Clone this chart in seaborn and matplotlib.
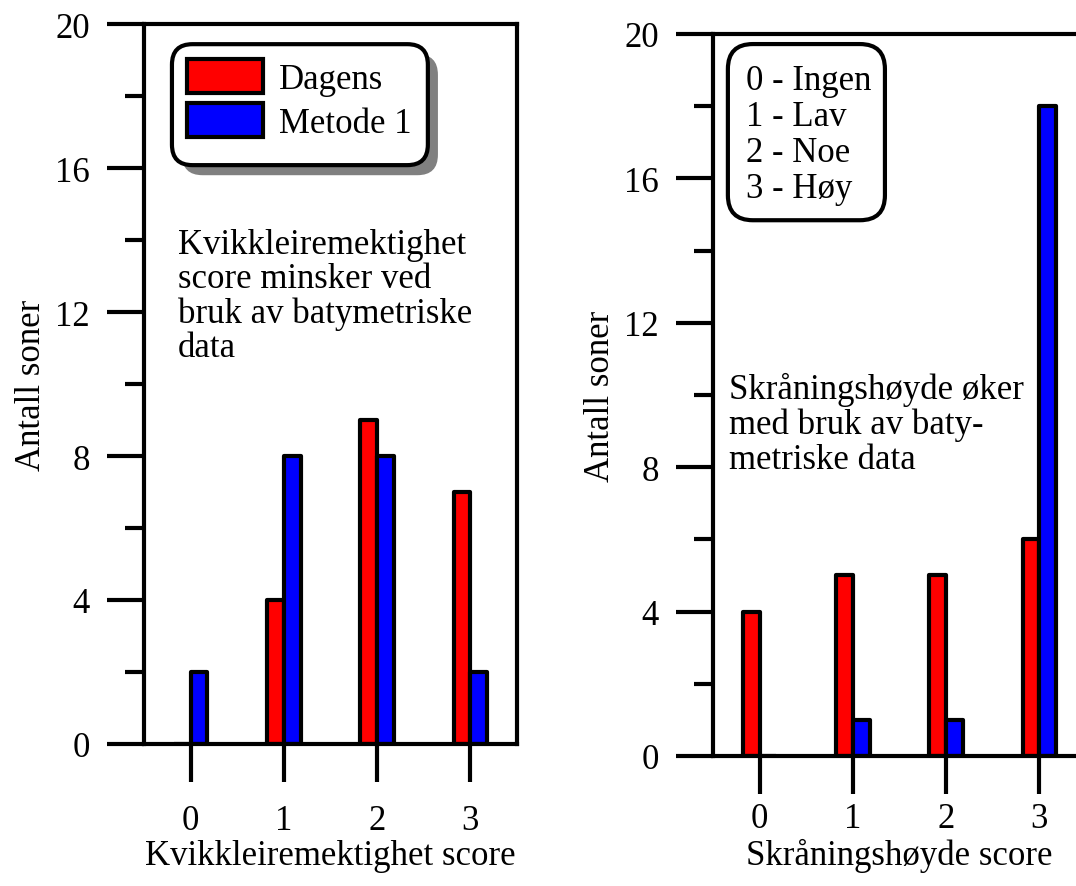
import numpy as np
import pandas as pd
import seaborn as sns
import matplotlib.pyplot as plt
from matplotlib.patches import FancyBboxPatch, Patch
from matplotlib.ticker import MultipleLocator

scores = ["0", "1", "2", "3"]
series = ["Dagens", "Metode 1"]

kvikk_dagens = [0, 4, 9, 7]
kvikk_metode1 = [2, 8, 8, 2]
skraning_dagens = [4, 5, 5, 6]
skraning_metode1 = [0, 1, 1, 18]

score_legend = ["0 - Ingen", "1 - Lav", "2 - Noe", "3 - Høy"]

colors = {"Dagens": "#ff0000", "Metode 1": "#0000ff"}

sns.set_style("ticks")
plt.rcParams["font.family"] = ["Liberation Serif", "DejaVu Serif"]
plt.rcParams.update({"text.color": "black", "axes.labelcolor": "black",
                     "xtick.color": "black", "ytick.color": "black"})
FS = 25


def make_df(dagens, metode):
    return pd.DataFrame({
        "score": scores * 2,
        "antall": list(dagens) + list(metode),
        "serie": [series[0]] * 4 + [series[1]] * 4,
    })


def style_axis(ax, xlabel, xpad, xlabelpad):
    ax.set_xlim(-0.5, 3.5)
    ax.set_ylim(0, 20)
    ax.yaxis.set_major_locator(MultipleLocator(4))
    ax.yaxis.set_minor_locator(MultipleLocator(2))
    ax.tick_params(axis="both", which="major", direction="out", length=27,
                   width=3, labelsize=FS, color="black")
    ax.tick_params(axis="y", which="major", pad=12)
    ax.tick_params(axis="x", which="major", pad=xpad)
    ax.tick_params(axis="y", which="minor", direction="out", length=14, width=3)
    for s in ax.spines.values():
        s.set_linewidth(3)
        s.set_color("black")
    ax.set_xlabel(xlabel, fontsize=FS, labelpad=xlabelpad)
    ax.set_ylabel("Antall soner", fontsize=FS, labelpad=5)
    ax.set_facecolor("white")


fig = plt.figure(figsize=(10.76, 8.87), dpi=100)
ax1 = fig.add_axes([0.1338, 0.1601, 0.3467, 0.8117])
ax2 = fig.add_axes([0.6626, 0.1466, 0.3467, 0.8140])

for ax, dag, met, xlab, xpad, xlp in [
    (ax1, kvikk_dagens, kvikk_metode1, "Kvikkleiremektighet score", 16, 2),
    (ax2, skraning_dagens, skraning_metode1, "Skråningshøyde score", 6, 2),
]:
    sns.barplot(data=make_df(dag, met), x="score", y="antall", hue="serie",
                order=scores, hue_order=series, palette=colors, width=0.36,
                gap=0, edgecolor="black", linewidth=3, saturation=1,
                legend=False, ax=ax)
    for p in ax.patches:
        p.set_joinstyle("round")
    style_axis(ax, xlab, xpad, xlp)

# left: legend box with shadow
asp1 = 373 / 720
shadow = FancyBboxPatch((0.102, 0.790), 0.686, 0.168,
                        boxstyle="round,pad=0,rounding_size=0.055",
                        transform=ax1.transAxes, facecolor="#808080",
                        edgecolor="none", zorder=5, mutation_aspect=asp1)
box = FancyBboxPatch((0.075, 0.804), 0.686, 0.168,
                     boxstyle="round,pad=0,rounding_size=0.055",
                     transform=ax1.transAxes, facecolor="white",
                     edgecolor="black", linewidth=3, zorder=6,
                     mutation_aspect=asp1)
ax1.add_patch(shadow)
ax1.add_patch(box)
handles = [Patch(facecolor=colors[s], edgecolor="black", linewidth=3, label=s)
           for s in series]
leg = ax1.legend(handles=handles, loc="upper left",
                 bbox_to_anchor=(0.115, 0.952), frameon=False, fontsize=FS,
                 borderpad=0, handlelength=2.2, handleheight=1.15,
                 labelspacing=0.2, handletextpad=0.45, borderaxespad=0)
leg.set_zorder(7)

ax1.text(0.091, 0.622,
         "Kvikkleiremektighet\nscore minsker ved\nbruk av batymetriske\ndata",
         transform=ax1.transAxes, ha="left", va="center", fontsize=FS,
         linespacing=1.04)

# right: score key box
asp2 = 373 / 722
box2 = FancyBboxPatch((0.040, 0.742), 0.421, 0.244,
                      boxstyle="round,pad=0,rounding_size=0.067",
                      transform=ax2.transAxes, facecolor="white",
                      edgecolor="black", linewidth=3, zorder=6,
                      mutation_aspect=asp2)
ax2.add_patch(box2)
ax2.text(0.088, 0.861, "\n".join(score_legend), transform=ax2.transAxes,
         ha="left", va="center", fontsize=FS, linespacing=1.12, zorder=7)

ax2.text(0.043, 0.460, "Skråningshøyde øker\nmed bruk av baty-\nmetriske data",
         transform=ax2.transAxes, ha="left", va="center", fontsize=FS,
         linespacing=1.08)

fig.savefig("out.png", dpi=100, facecolor="white")
